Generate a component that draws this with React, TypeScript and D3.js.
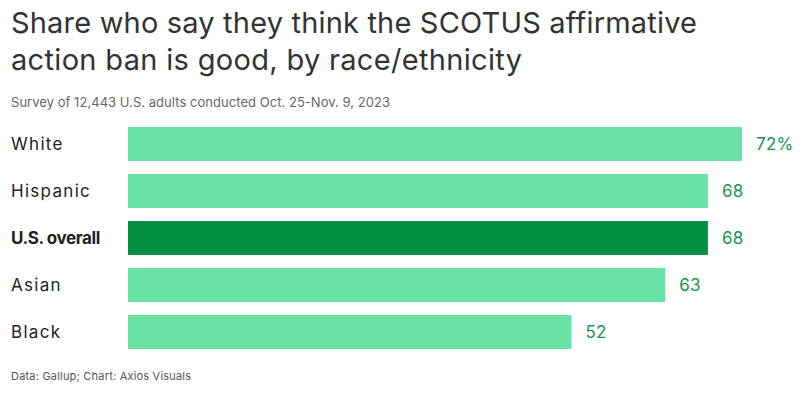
import React from 'react';
import { scaleLinear, scaleBand } from 'd3';

const categories = ['White', 'Hispanic', 'U.S. overall', 'Asian', 'Black'];
const values = [72, 68, 68, 63, 52];
const valueLabels = ['72%', '68', '68', '63', '52'];
const highlight = 'U.S. overall';

const width = 810;
const height = 394;
const font = 'Inter, "Noto Sans", sans-serif';

const App: React.FC = () => {
  const x = scaleLinear([0, 72], [128, 742]);
  const y = scaleBand(categories, [127, 349]).paddingInner(13 / 47).paddingOuter(0);

  return (
    <svg width={width} height={height} style={{ position: 'absolute', left: 0, top: 0, fontFamily: font }}>
      <rect width={width} height={height} fill="#fff" />
      <text x={11} y={33} fontSize={29} fill="#333" textLength={686} lengthAdjust="spacing">
        Share who say they think the SCOTUS affirmative
      </text>
      <text x={11} y={70} fontSize={29} fill="#333" textLength={511} lengthAdjust="spacing">
        action ban is good, by race/ethnicity
      </text>
      <text x={11} y={107} fontSize={13} fill="#666" textLength={379} lengthAdjust="spacing">
        Survey of 12,443 U.S. adults conducted Oct. 25-Nov. 9, 2023
      </text>

      {categories.map((c, i) => {
        const yy = y(c) ?? 0;
        const isHi = c === highlight;
        return (
          <g key={c}>
            <text
              x={11}
              y={yy + y.bandwidth() / 2}
              dy="0.35em"
              fontSize={17}
              fontWeight={isHi ? 700 : 400}
              fill="#222"
              letterSpacing={isHi ? -0.4 : 1.3}
            >
              {c}
            </text>
            <rect
              x={x(0)}
              y={yy}
              width={x(values[i]) - x(0)}
              height={y.bandwidth()}
              fill={isHi ? '#008f40' : '#68e2a5'}
            />
            <text
              x={x(values[i]) + 14}
              y={yy + y.bandwidth() / 2}
              dy="0.35em"
              fontSize={17}
              fill="#17954b"
              letterSpacing={0.3}
            >
              {valueLabels[i]}
            </text>
          </g>
        );
      })}

      <text x={11} y={380} fontSize={11} fill="#555" letterSpacing={0.2}>
        Data: Gallup; Chart: Axios Visuals
      </text>
    </svg>
  );
};

export default App;
